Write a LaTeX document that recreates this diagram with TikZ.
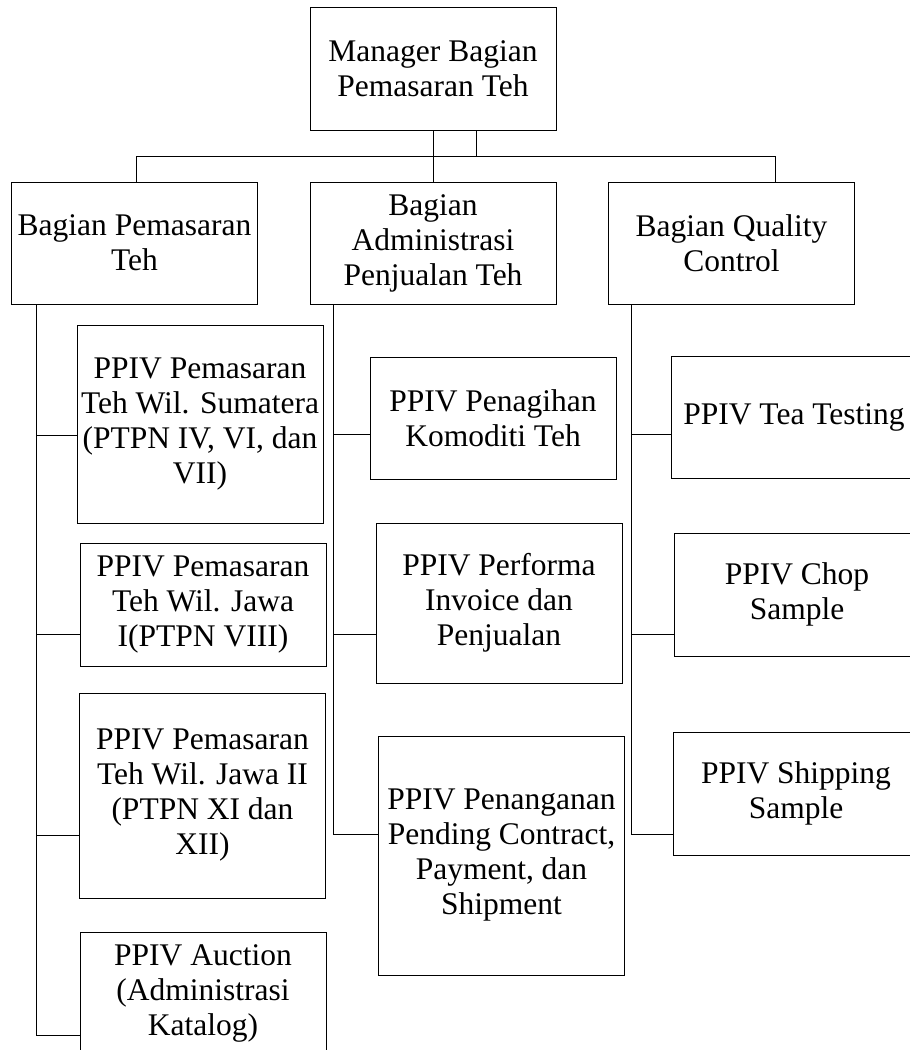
\documentclass[tikz,border=0pt]{standalone}
\usepackage{fontspec}
\setmainfont{Liberation Serif}
\tikzset{
	unit/.style={draw, rectangle, line width=1pt, inner sep=0pt, minimum width=246pt, align=center, font=\fontsize{31.5}{35}\selectfont},
	link/.style={line width=1pt}
}
\begin{document}
\begin{tikzpicture}[x=1pt, y=-1pt]
			\useasboundingbox (0,0) rectangle (910,1050);
			\clip (0,0) rectangle (910,1050);
			% top
			\node[unit, minimum height=123pt] (mgr) at (433,68.5) {Manager Bagian\\Pemasaran Teh};
			\node[unit, minimum height=122pt] (pem) at (134.5,243) {Bagian Pemasaran\\Teh};
			\node[unit, minimum height=122pt] (adm) at (433,243) {Bagian\\Administrasi\\Penjualan Teh};
			\node[unit, minimum height=122pt] (qc) at (731.5,243) {Bagian Quality\\Control};
			% left column
			\node[unit, minimum height=198pt] (sum) at (200,424) {PPIV Pemasaran\\Teh Wil. Sumatera\\(PTPN IV, VI, dan\\VII)};
			\node[unit, minimum height=123pt] (jw1) at (203,604.5) {PPIV Pemasaran\\Teh Wil. Jawa\\I(PTPN VIII)};
			\node[unit, minimum height=205pt] (jw2) at (202.5,795.5) {PPIV Pemasaran\\Teh Wil. Jawa II\\(PTPN XI dan\\XII)};
			\node[unit, minimum height=123pt] (auc) at (203,993.5) {PPIV Auction\\(Administrasi\\Katalog)};
			% middle column
			\node[unit, minimum height=122pt] (pen) at (493,418) {PPIV Penagihan\\Komoditi Teh};
			\node[unit, minimum height=160pt] (prf) at (499,603) {PPIV Performa\\Invoice dan\\Penjualan};
			\node[unit, minimum height=239pt] (pnd) at (501.5,855.5) {PPIV Penanganan\\Pending Contract,\\Payment, dan\\Shipment};
			% right column
			\node[unit, minimum height=122pt] (tea) at (794,417) {PPIV Tea Testing};
			\node[unit, minimum height=123pt] (chp) at (797,594.5) {PPIV Chop\\Sample};
			\node[unit, minimum height=123pt] (shp) at (796,793.5) {PPIV Shipping\\Sample};
			% connectors
			\draw[link] (mgr.south) -- (adm.north);
			\draw[link] (mgr.south -| 476,0) -- (476,156);
			\draw[link] (pem.north -| 136,0) -- (136,156) -- (775,156) -- (qc.north -| 775,0);
			\draw[link] (pem.south -| 36,0) |- (auc.west |- 0,1035);
			\foreach \b/\y in {sum/435, jw1/634, jw2/835}
				\draw[link] (36,\y) -- (\b.west |- 0,\y);
			\draw[link] (adm.south -| 333,0) |- (pnd.west |- 0,834);
			\foreach \b/\y in {pen/434, prf/634}
				\draw[link] (333,\y) -- (\b.west |- 0,\y);
			\draw[link] (qc.south -| 631,0) |- (shp.west |- 0,834);
			\foreach \b/\y in {tea/434, chp/634}
				\draw[link] (631,\y) -- (\b.west |- 0,\y);
		\end{tikzpicture}
\end{document}
